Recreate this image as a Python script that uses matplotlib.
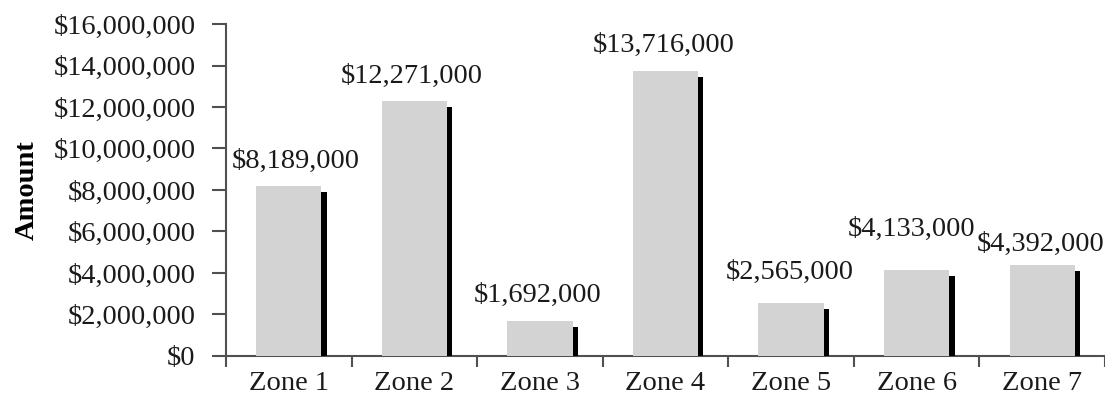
import matplotlib.pyplot as plt
import matplotlib.patheffects as pe
from matplotlib.ticker import FuncFormatter

# data
zones = ["Zone 1", "Zone 2", "Zone 3", "Zone 4", "Zone 5", "Zone 6", "Zone 7"]
amounts = [8189000, 12271000, 1692000, 13716000, 2565000, 4133000, 4392000]
# label nudges from bar top (points), as placed in the original
label_dx = [5, -2, -1.5, -1.5, -1, -3.5, -1.5]
label_dy = [13, 13, 13.7, 14.4, 17.3, 24.5, 10]

plt.rcParams['font.family'] = ['Liberation Serif', 'DejaVu Serif']
FS = 20.5

fig = plt.figure(figsize=(11.05, 4.11), dpi=100)
ax = fig.add_axes([0.2045, 0.134, 0.7955, 0.8075])

x = range(len(zones))
bars = ax.bar(x, amounts, width=0.52, color="#d3d3d3", zorder=3)
for b in bars:
    b.set_path_effects([pe.SimplePatchShadow(offset=(3.8, -4.3), shadow_rgbFace="black", alpha=1.0),
                        pe.Normal()])

for i, v in enumerate(amounts):
    ax.annotate(f"${v:,.0f}", (i, v), xytext=(label_dx[i], label_dy[i]), textcoords="offset points",
                ha="center", va="baseline", fontsize=FS, color="#1a1a1a", annotation_clip=False)

ax.set_xlim(-0.5, len(zones) - 0.5)
ax.set_ylim(0, 16000000)
ax.set_yticks(range(0, 16000001, 2000000))
ax.yaxis.set_major_formatter(FuncFormatter(lambda v, p: f"${v:,.0f}"))
ax.set_xticks(list(x))
ax.set_xticklabels(zones)
ax.set_xticks([i + 0.5 for i in range(-1, len(zones))], minor=True)
ax.tick_params(axis="x", which="major", length=0, pad=11, labelsize=FS, labelcolor="#1a1a1a")
ax.tick_params(axis="x", which="minor", length=8, width=1.5, color="#505050", direction="out")
ax.tick_params(axis="y", length=10, width=1.5, color="#505050", pad=12, labelsize=FS, labelcolor="#1a1a1a")

for s in ["top", "right"]:
    ax.spines[s].set_visible(False)
for s in ["left", "bottom"]:
    ax.spines[s].set_color("#505050")
    ax.spines[s].set_linewidth(1.5)

ax.set_ylabel("Amount", fontsize=FS, fontweight="bold", labelpad=10)

fig.savefig("out.png", dpi=100)
